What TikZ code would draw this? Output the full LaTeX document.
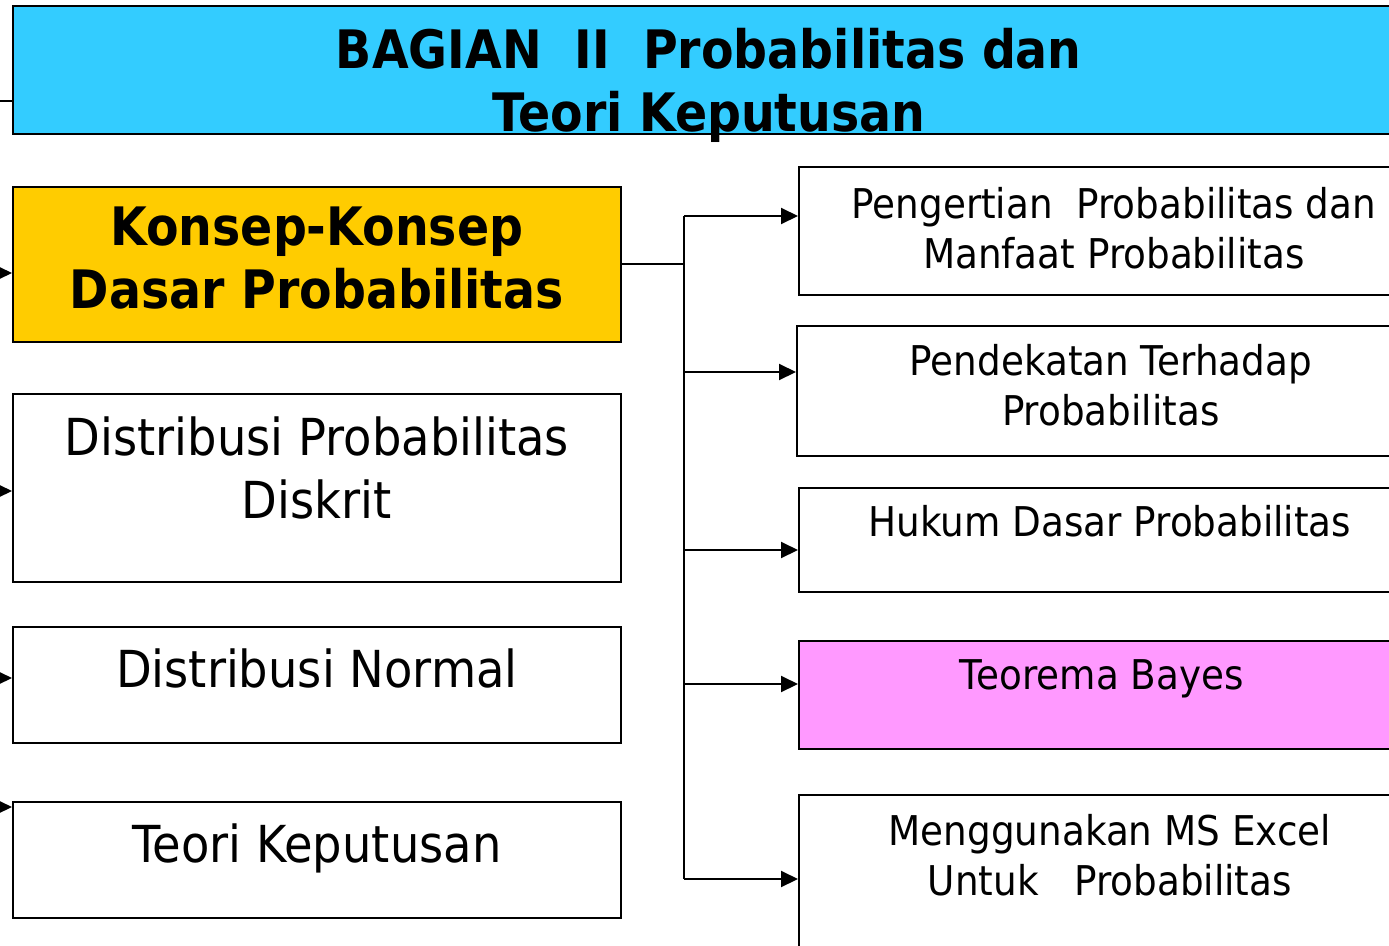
\documentclass[tikz,border=0pt]{standalone}
\usepackage{fontspec}
\setmainfont{DejaVu Sans}[FakeStretch=0.91, BoldFeatures={FakeStretch=0.895}]
\usetikzlibrary{arrows.meta,positioning}
\definecolor{biru}{HTML}{33CCFF}
\definecolor{kuning}{HTML}{FFCC00}
\definecolor{merahmuda}{HTML}{FF99FF}

\begin{document}
\begin{tikzpicture}[x=1pt,y=-1pt,
    kotak/.style={draw, line width=1.6pt, inner sep=0pt, anchor=north west},
    kiri/.style={kotak, minimum width=608pt},
    kanan/.style={kotak, minimum width=622pt},
    teks/.style={inner sep=0pt, anchor=north, align=center},
    besar/.style={teks, font=\fontsize{51}{63}\selectfont},
    kecil/.style={teks, font=\fontsize{41}{50}\selectfont},
    tebal/.style={teks, font=\fontsize{53}{63}\selectfont\bfseries},
    garis/.style={line width=2pt},
    panah/.style={garis, -{Triangle[length=17pt,width=16pt]}},
    panahkiri/.style={garis, -{Triangle[length=14pt,width=13pt]}}]
    \useasboundingbox (0,0) rectangle (1389,945);
    \clip (0,0) rectangle (1389,945);

    % judul
    \node[kotak, fill=biru, minimum width=1392pt, minimum height=128pt] (judul) at (12,5) {};
    \node[tebal, below=23pt of judul.north] (judultxt) {BAGIAN\ \ II\ \ Probabilitas dan\\Teori Keputusan};

    % kolom kiri
    \node[kiri, fill=kuning, minimum height=155pt] (konsep) at (12,186) {};
    \node[tebal, below=21pt of konsep.north] (konseptxt) {Konsep-Konsep\\Dasar Probabilitas};
    \node[kiri, minimum height=188pt] (diskrit) at (12,393) {};
    \node[besar, below=24pt of diskrit.north] (diskrittxt) {Distribusi Probabilitas\\Diskrit};
    \node[kiri, minimum height=116pt] (normal) at (12,626) {};
    \node[besar, below=23pt of normal.north] (normaltxt) {Distribusi Normal};
    \node[kiri, minimum height=116pt] (keputusan) at (12,801) {};
    \node[besar, below=23pt of keputusan.north] (keputusantxt) {Teori Keputusan};

    % kolom kanan
    \node[kanan, minimum height=128pt] (pengertian) at (798,166) {};
    \node[kecil, below=21pt of pengertian.north, xshift=4pt] (pengertiantxt) {Pengertian\ \ Probabilitas dan\\Manfaat Probabilitas};
    \node[kanan, minimum height=130pt] (pendekatan) at (796,325) {};
    \node[kecil, below=19pt of pendekatan.north, xshift=3pt] (pendekatantxt) {Pendekatan Terhadap\\Probabilitas};
    \node[kanan, minimum height=104pt] (hukum) at (798,487) {};
    \node[kecil, below=18pt of hukum.north] (hukumtxt) {Hukum Dasar Probabilitas};
    \node[kanan, fill=merahmuda, minimum height=108pt] (bayes) at (798,640) {};
    \node[kecil, below=19pt of bayes.north, xshift=-8pt] (bayestxt) {Teorema Bayes};
    \node[kanan, minimum height=170pt] (excel) at (798,794) {};
    \node[kecil, below=20pt of excel.north] (exceltxt) {Menggunakan MS Excel\\Untuk\ \ \ Probabilitas};

    % garis masuk dari kiri
    \coordinate (masukJ) at (-20,101);
    \coordinate (masukK) at (-20,273);
    \coordinate (masukD) at (-20,491);
    \coordinate (masukN) at (-20,678);
    \coordinate (masukT) at (-20,807);
    \draw[garis] (masukJ) -- (judul.west |- masukJ);
    \draw[panahkiri] (masukK) -- (konsep.west |- masukK);
    \draw[panahkiri] (masukD) -- (diskrit.west |- masukD);
    \draw[panahkiri] (masukN) -- (normal.west |- masukN);
    \draw[panahkiri] (masukT) -- (keputusan.west |- masukT);

    % cabang ke kanan
    \coordinate (c1) at (684,216);
    \coordinate (c2) at (684,372);
    \coordinate (c3) at (684,550);
    \coordinate (c4) at (684,684);
    \coordinate (c5) at (684,879);
    \draw[garis] (konsep.east) -- (konsep.east -| c1);
    \draw[garis] (c1) -- (c5);
    \draw[panah] (c1) -- (pengertian.west |- c1);
    \draw[panah] (c2) -- (pendekatan.west |- c2);
    \draw[panah] (c3) -- (hukum.west |- c3);
    \draw[panah] (c4) -- (bayes.west |- c4);
    \draw[panah] (c5) -- (excel.west |- c5);
\end{tikzpicture}
\end{document}
